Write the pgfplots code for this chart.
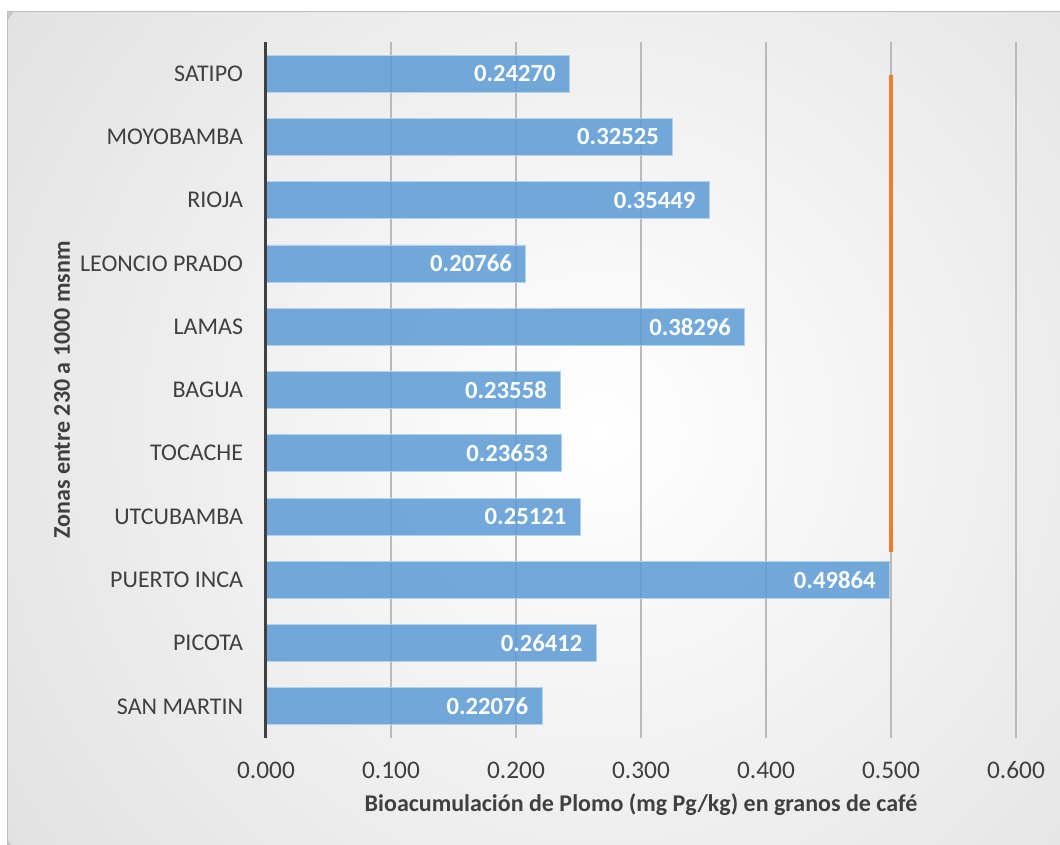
\documentclass[border=0pt]{standalone}
\usepackage{fontspec}
\setmainfont{Carlito}
\usepackage{pgfplots}
\pgfplotsset{compat=1.18}
\usepackage{pgfplotstable}
\definecolor{barblue}{HTML}{5B9BD5}
\definecolor{txt}{HTML}{404040}
\definecolor{orng}{HTML}{ED7D31}
\definecolor{gridc}{HTML}{BABABA}
\definecolor{bgout}{HTML}{C5C5C5}
\pgfdeclareradialshading{bgshade}{\pgfpoint{0bp}{0bp}}{color(0bp)=(white); color(50bp)=(bgout)}
\pgfplotstableread{
idx val lab
0 0.22076 0.22076
1 0.26412 0.26412
2 0.49864 0.49864
3 0.25121 0.25121
4 0.23653 0.23653
5 0.23558 0.23558
6 0.38296 0.38296
7 0.20766 0.20766
8 0.35449 0.35449
9 0.32525 0.32525
10 0.24270 0.24270
}\data
\begin{document}
\begin{tikzpicture}
\path[use as bounding box] (-199.5pt,-80.25pt) rectangle (595.5pt,553.5pt);
\begin{scope}
\clip (-193.5pt,-80.25pt) rectangle (595.5pt,544.5pt);
\fill[bgout] (-193.5pt,-80.25pt) rectangle (595.5pt,544.5pt);
\shade[shading=bgshade] (250.5pt,231pt) circle (540pt);
\end{scope}
\draw[black!25, line width=0.75pt] (-193.5pt,-80.25pt) -- (-193.5pt,544.5pt) -- (595.5pt,544.5pt);
\begin{axis}[
  at={(0,0)}, anchor=south west,
  scale only axis, width=562.5pt, height=522pt,
  clip=false,
  xmin=0, xmax=0.6, ymin=-0.5, ymax=10.5,
  bar width=27.75pt,
  axis line style={draw=none},
  major tick length=0pt,
  xtick={0,0.1,0.2,0.3,0.4,0.5,0.6},
  xmajorgrids, grid style={gridc, line width=1.1pt},
  ytick={0,1,2,3,4,5,6,7,8,9,10},
  yticklabels={SAN MARTIN, PICOTA, PUERTO INCA, UTCUBAMBA, TOCACHE, BAGUA, LAMAS, LEONCIO PRADO, RIOJA, MOYOBAMBA, SATIPO},
  xticklabel style={font=\fontsize{19}{22}\selectfont, text=txt, anchor=center, yshift=-24pt,
    /pgf/number format/fixed, /pgf/number format/fixed zerofill, /pgf/number format/precision=3,
    /pgf/number format/assume math mode=true},
  yticklabel style={font=\fontsize{18}{21}\selectfont, text=txt, anchor=east, inner sep=0pt, xshift=-17pt},
  xlabel={Bioacumulación de Plomo (mg Pg/kg) en granos de café},
  xlabel style={font=\bfseries\fontsize{18}{21}\selectfont, text=txt, at={(axis description cs:0.5,-0.0963)}, anchor=center},
  ylabel={Zonas entre 230 a 1000 msnm},
  ylabel style={font=\bfseries\fontsize{18}{21}\selectfont, text=txt, at={(axis description cs:-0.272,0.5)}, anchor=center},
]
\addplot[xbar, fill=barblue, fill opacity=0.85, draw=barblue!45, line width=0.6pt,
  nodes near coords, point meta=explicit symbolic,
  nodes near coords style={anchor=east, text=white, text opacity=1, fill opacity=1, font=\bfseries\fontsize{18.5}{21}\selectfont, inner sep=0pt, xshift=-10pt}]
  table[x=val, y=idx, meta=lab] {\data};
\addplot[orng, line width=3pt, no markers, forget plot] coordinates {(0.5,2.44) (0.5,9.98)};
\draw[txt, line width=2.25pt] (axis cs:0,-0.5) -- (axis cs:0,10.5);
\end{axis}
\end{tikzpicture}
\end{document}
